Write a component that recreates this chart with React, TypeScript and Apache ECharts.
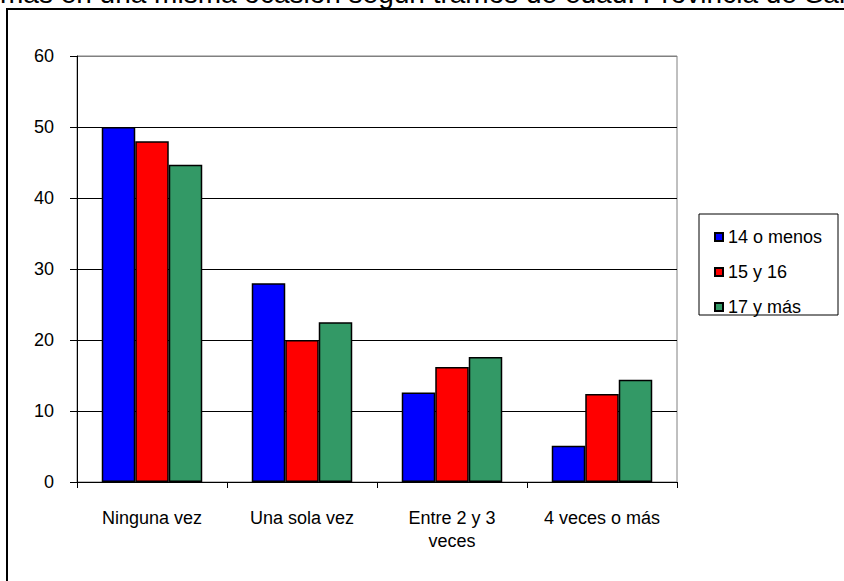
import React, { useEffect, useRef } from "react";
import * as echarts from "echarts";

const categories = ["Ninguna vez", "Una sola vez", "Entre 2 y 3\nveces", "4 veces o más"];
const seriesNames = ["14 o menos", "15 y 16", "17 y más"];
const menos14 = [50.0, 28.0, 12.6, 5.1];
const de15a16 = [48.0, 20.0, 16.2, 12.4];
const mas17 = [44.7, 22.5, 17.6, 14.4];
const colors = ["#0000FF", "#FF0000", "#339966"];
const yTicks = [0, 10, 20, 30, 40, 50, 60];
const titleText = "más en una misma ocasión según tramos de edad. Provincia de Salta";

export default function App() {
  const ref = useRef<HTMLDivElement>(null);
  useEffect(() => {
    if (!ref.current) return;
    const chart = echarts.init(ref.current, null, { renderer: "svg" });
    const font = "Arial, 'Liberation Sans', sans-serif";
    const data = [menos14, de15a16, mas17];
    chart.setOption({
      animation: false,
      backgroundColor: "#ffffff",
      textStyle: { fontFamily: font },
      grid: {
        left: 77,
        right: 167,
        top: 56,
        bottom: 99,
        show: true,
        borderColor: "#808080",
        borderWidth: 1,
      },
      legend: {
        orient: "vertical",
        left: 709,
        top: 222,
        itemWidth: 8,
        itemHeight: 8,
        itemGap: 15,
        icon: "rect",
        textStyle: { fontSize: 18, color: "#000", lineHeight: 20, fontFamily: font },
        data: seriesNames,
      },
      xAxis: {
        type: "category",
        data: categories,
        axisLine: { lineStyle: { color: "#000", width: 1 } },
        axisTick: { show: true, alignWithLabel: false, length: 6, lineStyle: { color: "#000" } },
        axisLabel: {
          fontSize: 18,
          color: "#000",
          lineHeight: 23,
          margin: 24,
          interval: 0,
          fontFamily: font,
        },
      },
      yAxis: {
        type: "value",
        min: yTicks[0],
        max: yTicks[yTicks.length - 1],
        interval: 10,
        axisLine: { show: true, lineStyle: { color: "#000", width: 1 } },
        axisTick: { show: true, length: 7, lineStyle: { color: "#000" } },
        axisLabel: { fontSize: 18, color: "#000", margin: 23, fontFamily: font },
        splitLine: {
          show: true,
          lineStyle: {
            color: ["#000", "#000", "#000", "#000", "#000", "#000", "#808080"],
            width: 1,
          },
        },
      },
      series: seriesNames.map((name, i) => ({
        name,
        type: "bar",
        data: data[i],
        barGap: "0%",
        barCategoryGap: "33%",
        itemStyle: { color: colors[i], borderColor: "#000", borderWidth: 1.5 },
      })),
      graphic: [
        {
          type: "rect",
          shape: { x: 7, y: 9, width: 900, height: 700 },
          style: { fill: "none", stroke: "#000", lineWidth: 2 },
          silent: true,
        },
        {
          type: "rect",
          shape: { x: 699, y: 214, width: 139, height: 101 },
          style: { fill: "none", stroke: "#000", lineWidth: 1 },
          silent: true,
        },
        {
          type: "text",
          x: 0,
          y: -7,
          style: {
            text: titleText,
            font: "28px Arial, 'Liberation Sans', sans-serif",
            fill: "#000",
            verticalAlign: "middle",
            align: "left",
          },
          silent: true,
        },
      ],
    });
    return () => chart.dispose();
  }, []);
  return (
    <div
      ref={ref}
      style={{ position: "absolute", left: 0, top: 0, width: 844, height: 581 }}
    />
  );
}
